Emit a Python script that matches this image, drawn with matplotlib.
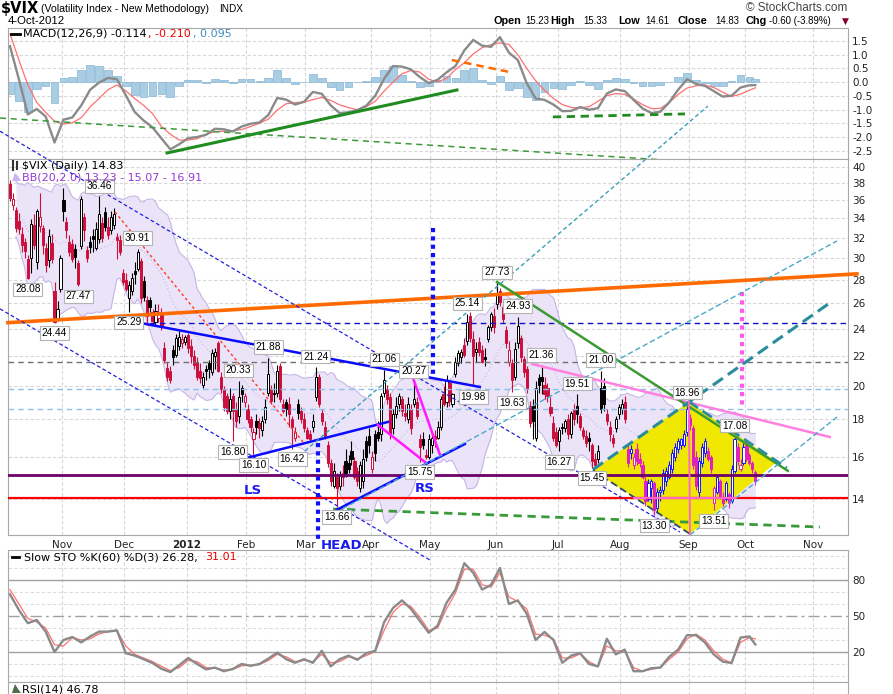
import matplotlib
matplotlib.use("Agg")
import matplotlib.pyplot as plt
import numpy as np
import pandas as pd
from matplotlib.lines import Line2D
from matplotlib.patches import Polygon
from matplotlib.ticker import FuncFormatter, NullLocator

W, H = 893, 694

# ---- $VIX daily candles, 6-Oct-2011 .. 4-Oct-2012 ----
opens = [37.9, 35.5, 34.9, 33.7, 32.4, 31.6, 29.9, 30.0, 33.3, 29.6,
         33.2, 33.0, 31.0, 29.8, 31.5, 27.0, 24.8, 27.2, 36.0, 33.6,
         31.6, 31.4, 30.9, 29.5, 31.2, 34.2, 30.8, 31.6, 32.2, 31.0,
         31.9, 33.5, 34.7, 33.1, 32.8, 33.3, 32.1, 31.8, 28.6, 28.0,
         26.4, 27.0, 28.8, 29.0, 29.7, 27.9, 26.3, 26.3, 25.3, 24.5,
         24.8, 25.2, 22.6, 21.2, 21.0, 22.4, 22.1, 22.7, 22.9, 23.0,
         23.5, 22.7, 22.0, 21.6, 21.0, 20.1, 21.1, 21.5, 20.9, 22.0,
         22.9, 20.6, 19.8, 19.4, 18.5, 19.4, 18.6, 18.2, 19.9, 19.0,
         18.6, 18.0, 16.9, 17.9, 17.8, 17.4, 18.0, 19.6, 19.8, 19.6,
         19.6, 21.3, 18.9, 19.0, 18.9, 18.0, 17.0, 18.9, 18.5, 18.0,
         17.4, 17.2, 17.6, 19.3, 20.6, 18.4, 17.6, 16.6, 15.7, 14.6,
         15.0, 14.6, 15.2, 15.8, 15.7, 16.3, 15.8, 15.3, 14.5, 14.8,
         16.8, 17.1, 15.4, 17.2, 17.3, 17.2, 19.6, 19.8, 19.3, 17.5,
         18.3, 18.9, 19.2, 18.4, 18.0, 18.6, 18.9, 19.0, 16.9, 16.9,
         16.1, 16.0, 16.6, 17.1, 17.0, 17.6, 19.5, 19.0, 20.2, 18.9,
         20.8, 21.5, 21.9, 22.8, 23.1, 25.0, 23.2, 22.3, 23.0, 22.4,
         21.9, 23.2, 24.1, 25.0, 25.9, 27.0, 25.7, 23.9, 21.6, 21.5,
         20.6, 22.9, 23.3, 21.8, 21.1, 18.8, 18.8, 17.0, 20.5, 20.6,
         20.1, 19.9, 18.7, 17.8, 17.3, 16.8, 17.6, 17.5, 18.0, 17.2,
         18.6, 18.8, 18.2, 17.4, 17.1, 17.0, 16.6, 15.9, 15.9, 19.9,
         20.0, 18.3, 17.6, 17.0, 17.5, 18.3, 18.6, 19.0, 16.4, 16.2,
         15.6, 16.4, 15.9, 15.6, 14.8, 14.0, 14.5, 14.7, 13.6, 14.3,
         14.4, 14.8, 15.0, 15.4, 16.0, 16.4, 16.6, 16.6, 17.3, 18.1,
         17.5, 16.0, 14.3, 15.7, 16.2, 16.3, 16.0, 13.8, 14.3, 14.8,
         14.1, 14.0, 14.2, 13.9, 15.3, 16.5, 15.4, 15.7, 16.6, 16.1,
         15.7, 15.23]
highs = [38.4, 36.8, 35.3, 34.6, 33.1, 32.0, 30.3, 33.9, 34.5, 35.0,
         36.9, 33.3, 31.5, 32.9, 32.4, 27.8, 26.2, 30.3, 37.4, 34.2,
         32.3, 31.9, 31.4, 29.8, 36.5, 34.6, 31.2, 32.2, 32.9, 33.6,
         36.46, 34.2, 35.2, 34.1, 34.8, 35.1, 32.5, 32.3, 29.0, 28.6,
         27.9, 28.6, 29.6, 30.91, 30.0, 28.3, 26.6, 26.5, 25.5, 25.9,
         25.9, 25.6, 23.0, 21.6, 21.3, 22.8, 23.6, 23.8, 23.6, 23.5,
         23.7, 23.2, 22.4, 21.9, 21.5, 20.9, 21.4, 21.7, 22.5, 22.6,
         23.1, 20.9, 20.0, 19.6, 19.9, 19.6, 19.0, 20.33, 20.1, 19.6,
         18.9, 18.2, 17.5, 18.3, 18.1, 18.2, 19.2, 21.88, 20.1, 20.2,
         21.4, 21.5, 19.2, 19.2, 19.3, 18.2, 17.6, 19.2, 18.7, 18.4,
         17.6, 17.4, 18.3, 21.24, 20.8, 18.6, 17.9, 16.8, 15.9, 15.7,
         15.2, 15.3, 15.6, 16.4, 16.1, 16.8, 16.0, 15.5, 15.8, 16.4,
         17.1, 17.5, 16.3, 17.4, 17.9, 19.6, 21.06, 20.1, 19.6, 18.6,
         19.3, 19.6, 19.4, 18.9, 19.3, 18.9, 20.27, 19.3, 17.2, 17.3,
         16.4, 17.2, 17.2, 17.4, 17.9, 19.4, 20.0, 20.7, 20.4, 19.6,
         21.9, 22.4, 22.5, 23.3, 25.14, 25.3, 23.8, 23.0, 23.4, 22.8,
         22.6, 24.3, 25.3, 25.6, 27.73, 27.3, 25.9, 24.2, 23.1, 21.8,
         23.0, 24.93, 23.5, 22.0, 21.3, 19.1, 19.2, 20.3, 20.8, 21.36,
         20.6, 20.2, 19.3, 18.2, 17.6, 17.6, 17.8, 18.0, 18.3, 18.5,
         18.9, 19.51, 18.4, 17.6, 17.4, 17.3, 16.7, 16.2, 16.6, 21.0,
         20.5, 18.6, 17.9, 17.2, 18.2, 18.9, 19.2, 19.4, 16.6, 16.6,
         16.2, 16.7, 16.2, 15.8, 15.0, 14.9, 14.9, 14.8, 14.5, 14.6,
         15.4, 15.5, 15.8, 16.4, 16.7, 17.0, 17.0, 17.4, 18.96, 18.3,
         17.7, 16.3, 16.0, 16.7, 17.0, 16.5, 16.1, 14.6, 15.1, 14.9,
         14.3, 14.8, 14.3, 15.6, 17.08, 16.7, 15.9, 16.7, 16.8, 16.2,
         15.8, 15.33]
lows = [35.9, 34.9, 32.6, 32.4, 30.6, 30.0, 28.08, 28.6, 30.9, 29.0,
        32.6, 30.4, 28.7, 29.2, 29.5, 24.44, 24.6, 26.9, 33.7, 32.0,
        30.2, 29.6, 29.1, 27.47, 30.9, 31.7, 29.6, 30.5, 30.6, 30.8,
        31.5, 31.6, 32.7, 31.9, 32.4, 32.9, 29.9, 30.3, 27.5, 27.0,
        25.29, 26.7, 27.6, 28.8, 26.0, 26.2, 24.3, 25.3, 24.3, 24.2,
        24.5, 23.9, 21.5, 20.3, 20.2, 21.4, 21.9, 22.4, 22.6, 22.8,
        22.2, 21.5, 21.1, 20.4, 20.2, 19.9, 20.4, 20.5, 20.7, 21.1,
        20.9, 19.6, 18.5, 18.3, 18.0, 16.8, 17.6, 17.8, 19.0, 18.7,
        17.8, 17.3, 16.1, 17.2, 17.0, 17.1, 17.8, 19.4, 18.9, 19.0,
        19.3, 19.0, 18.4, 18.2, 17.6, 16.42, 16.8, 18.0, 17.8, 17.3,
        16.9, 16.8, 17.3, 19.1, 18.7, 17.7, 16.9, 15.5, 14.6, 14.5,
        13.66, 14.4, 14.6, 15.0, 15.2, 15.6, 14.9, 14.6, 14.3, 14.5,
        15.8, 16.2, 15.2, 15.8, 16.8, 16.8, 19.3, 18.9, 16.9, 17.2,
        18.1, 18.5, 18.2, 17.9, 17.8, 17.2, 18.7, 18.0, 15.75, 16.4,
        15.9, 15.9, 16.2, 16.5, 16.9, 17.4, 18.8, 18.7, 18.8, 18.7,
        20.6, 21.3, 21.5, 21.9, 22.8, 23.0, 19.98, 21.6, 22.0, 21.5,
        21.3, 23.0, 23.8, 23.7, 25.5, 25.8, 24.4, 22.6, 21.3, 19.63,
        20.4, 22.6, 21.6, 20.6, 19.6, 17.6, 16.9, 16.8, 19.6, 19.5,
        19.2, 19.0, 18.2, 16.8, 16.5, 16.27, 17.2, 17.3, 16.9, 17.0,
        17.7, 17.8, 17.4, 16.9, 16.5, 16.3, 15.45, 15.5, 15.7, 18.4,
        18.5, 17.7, 16.8, 16.5, 17.3, 18.0, 18.3, 17.8, 15.5, 15.9,
        15.4, 15.6, 15.5, 14.9, 13.7, 13.9, 13.8, 13.30, 13.4, 13.9,
        14.2, 14.6, 14.9, 15.2, 15.8, 16.2, 16.4, 16.5, 17.1, 17.4,
        15.4, 14.4, 14.1, 15.5, 16.0, 15.8, 15.2, 13.51, 14.2, 14.0,
        13.7, 13.9, 13.6, 13.8, 15.2, 15.6, 15.3, 15.6, 15.8, 15.6,
        15.2, 14.61]
closes = [36.3, 36.2, 33.0, 32.9, 31.3, 30.7, 28.2, 33.4, 31.3, 34.8,
          34.1, 31.3, 29.3, 32.2, 29.9, 24.5, 25.5, 30.0, 34.8, 32.8,
          30.6, 29.9, 30.1, 27.6, 36.2, 32.8, 30.0, 31.1, 31.9, 32.9,
          34.5, 32.0, 33.1, 32.3, 34.1, 34.5, 31.8, 30.6, 27.8, 27.2,
          27.5, 28.2, 28.5, 30.6, 26.4, 26.5, 25.0, 25.7, 24.6, 25.4,
          25.3, 24.2, 21.7, 20.6, 20.4, 21.9, 23.3, 23.4, 23.2, 23.4,
          22.6, 22.0, 21.4, 20.6, 20.5, 20.6, 21.0, 21.1, 22.2, 22.3,
          21.0, 19.8, 18.7, 18.5, 19.2, 18.5, 17.9, 19.3, 19.5, 19.4,
          18.0, 17.6, 17.3, 17.6, 17.5, 17.9, 18.7, 20.8, 19.1, 19.5,
          21.0, 19.2, 18.5, 18.6, 18.3, 17.6, 17.3, 18.4, 18.0, 17.5,
          17.0, 16.9, 17.9, 20.6, 18.9, 17.9, 17.1, 15.7, 14.8, 15.3,
          14.5, 15.1, 15.0, 15.2, 15.4, 15.9, 15.0, 14.8, 15.6, 15.9,
          16.0, 16.6, 16.0, 16.2, 17.0, 19.4, 20.4, 19.2, 17.2, 18.3,
          18.8, 19.4, 18.5, 18.2, 18.9, 17.5, 19.2, 18.2, 16.5, 16.6,
          16.0, 16.9, 17.0, 16.9, 17.6, 19.2, 18.9, 20.4, 19.1, 19.5,
          21.6, 22.2, 22.3, 22.1, 24.5, 23.3, 22.0, 22.5, 22.3, 21.6,
          21.8, 24.1, 25.1, 24.1, 26.7, 26.1, 24.7, 22.9, 22.4, 20.4,
          22.5, 24.2, 21.9, 20.9, 19.9, 17.8, 17.9, 19.9, 20.1, 20.3,
          19.5, 19.4, 18.4, 17.0, 16.6, 17.4, 17.5, 17.9, 17.2, 18.4,
          18.0, 18.3, 17.6, 17.1, 16.7, 16.8, 15.8, 15.6, 16.3, 18.6,
          18.9, 17.9, 17.2, 16.7, 18.0, 18.7, 18.9, 18.0, 15.7, 16.4,
          16.0, 15.8, 15.7, 15.0, 13.9, 14.7, 14.8, 13.5, 14.3, 14.4,
          15.2, 15.3, 15.6, 16.2, 16.5, 16.8, 16.9, 17.2, 18.6, 17.7,
          15.6, 14.6, 15.8, 16.5, 16.8, 15.9, 15.4, 14.5, 15.0, 14.1,
          13.8, 14.7, 13.8, 15.4, 16.9, 15.8, 15.6, 16.5, 15.9, 15.7,
          15.4, 14.83]

HOLIDAYS = ["2011-11-24", "2011-12-26", "2012-01-02", "2012-01-16", "2012-02-20",
            "2012-04-06", "2012-05-28", "2012-07-04", "2012-09-03", "2012-11-22"]

# ---- indicators, read every third session (last point = 4-Oct-2012) ----
ind_day = list(range(0, 250, 3)) + [251]
macd_line = [1.3, 0.1, -1.18, -0.98, -1.25, -2.2, -1.37, -1.29, -0.85, -0.28,
             -0.02, 0.15, 0.1, -0.48, -1.09, -1.4, -1.65, -2.05, -2.45, -2.26,
             -2.04, -2.0, -1.92, -1.7, -1.72, -1.8, -1.62, -1.52, -1.47, -1.2,
             -0.58, -0.64, -0.82, -0.72, -0.36, -0.43, -0.85, -1.13, -1.1, -1.02,
             -0.86, -0.5, 0.12, 0.58, 0.56, 0.46, 0.18, -0.04, 0.08, 0.35,
             0.58, 1.15, 1.53, 1.32, 1.28, 1.63, 1.07, 0.8, -0.04, -0.6,
             -0.65, -0.82, -1.06, -1.05, -0.91, -1.01, -0.95, -0.42, -0.27, -0.33,
             -0.65, -0.96, -1.13, -1.08, -0.74, -0.28, 0.1, -0.07, -0.14, -0.33,
             -0.53, -0.5, -0.2, -0.12, -0.114]
macd_signal = [1.75, 0.8, -0.1, -0.74, -1.1, -1.43, -1.53, -1.48, -1.3, -0.9,
               -0.6, -0.28, -0.11, -0.32, -0.6, -0.85, -1.15, -1.62, -1.9, -2.11,
               -2.11, -2.06, -1.9, -1.81, -1.79, -1.77, -1.73, -1.62, -1.5, -1.35,
               -1.02, -0.79, -0.75, -0.73, -0.64, -0.56, -0.67, -0.83, -0.93, -1.01,
               -0.9, -0.7, -0.33, 0.0, 0.3, 0.42, 0.36, 0.1, 0.0, 0.13,
               0.45, 0.7, 1.02, 1.25, 1.36, 1.42, 1.37, 1.0, 0.5, 0.05,
               -0.3, -0.6, -0.82, -0.93, -0.94, -0.9, -0.7, -0.5, -0.42, -0.45,
               -0.62, -0.82, -0.97, -0.96, -0.75, -0.45, -0.22, -0.14, -0.11, -0.2,
               -0.37, -0.53, -0.44, -0.3, -0.21]
sto_k = [68, 55, 44, 46.7, 37, 20, 30, 32.5, 28, 33,
         37, 37, 38, 19, 17, 14, 10.8, 6, 3.3, 9,
         15, 10, 5.5, 7, 4, 5.8, 10, 8.5, 10, 14.5,
         19.5, 14, 11, 14, 11, 21, 8, 14, 17, 13.5,
         19, 21, 45, 56.7, 63, 56, 46, 36, 42, 61,
         72, 94, 86, 72, 76, 90, 60, 63, 52, 30,
         36.7, 30, 11, 17, 19, 10, 8, 31, 18, 22,
         4, 4, 6.5, 7, 16, 22, 34, 34, 28, 18,
         12, 10.8, 32, 33, 26.28]
sto_d = [72, 60, 48, 45, 40, 26, 25, 32, 30, 31,
         35, 37, 38, 25, 18, 15, 12, 8, 4.5, 7,
         13, 12, 7, 6.5, 5, 5.5, 8.5, 9, 9.5, 13,
         18, 16, 12, 13, 12, 18, 11, 12, 16, 14.5,
         17, 20.5, 38, 53, 60, 58, 49, 38, 40, 56,
         69, 89, 89, 76, 74, 86, 66, 62, 56, 35,
         34, 31, 15, 15, 18.5, 12, 8, 25, 21, 21,
         7, 4, 5.5, 7, 14, 20, 31, 35, 30, 21,
         14, 11, 28, 32, 31.01]

# ---- hand-placed high/low labels: session, value, +1 above / -1 below ----
pt_day = [6, 30, 23, 15, 43, 40, 75, 82, 77, 87, 95, 103, 110, 126, 136,
          138, 156, 154, 164, 171, 169, 179, 199, 191, 185, 196, 217, 228, 244, 237]
pt_val = [28.08, 36.46, 27.47, 24.44, 30.91, 25.29, 16.80, 16.10, 20.33, 21.88,
          16.42, 21.24, 13.66, 21.06, 20.27, 15.75, 19.98, 25.14, 27.73, 24.93,
          19.63, 21.36, 21.00, 19.51, 16.27, 15.45, 13.30, 18.96, 17.08, 13.51]
pt_side = [-1, 1, -1, -1, 1, -1, -1, -1, 1, 1, -1, 1, -1, 1, 1,
           -1, -1, 1, 1, 1, -1, 1, 1, 1, -1, -1, -1, 1, 1, -1]

# ---- drawn trendlines on the price panel: (session, price) pairs ----
price_lines = [
    # (start, end, colour, width, dash, unclipped)
    ((-0.7, 24.45), (285.2, 28.53), "#ff6a00", 2.6, "-", True),
    ((108.8, 13.56), (272.7, 12.81), "#3a9a3a", 2.0, (0, (3, 2)), False),
    ((-3.37, 44.8), (225.6, 12.61), "#2020e0", 0.9, (0, (3, 2)), True),
    ((-3.37, 25.54), (141.4, 11.54), "#2020e0", 0.9, (0, (3, 2)), True),
    ((35.35, 34.7), (98.65, 16.77), "#ff3b1f", 1.0, (0, (2, 2)), False),
    ((43.8, 24.43), (158.2, 19.95), "#0a0aff", 1.8, "-", False),
    ((79.8, 15.94), (127.3, 17.86), "#0a0aff", 1.8, "-", False),
    ((110.1, 13.53), (153.2, 16.66), "#0a0aff", 1.8, "-", False),
    ((123.9, 17.69), (139.7, 15.74), "#ff1aff", 1.8, "-", False),
    ((135.7, 20.53), (144.8, 16.09), "#ff1aff", 1.8, "-", False),
    ((175.8, 21.45), (276.1, 17.03), "#ff80e0", 1.8, "-", False),
    ((164.0, 27.81), (261.95, 15.30), "#3c9a32", 1.8, "-", False),
    ((142.4, 32.99), (142.4, 20.73), "#1010ff", 3.0, (0, (1, 1)), False),
    ((103.7, 16.71), (103.7, 12.30), "#1010ff", 3.0, (0, (1, 1)), True),
    ((246.5, 26.94), (246.5, 18.65), "#ff5af0", 3.0, (0, (1, 1)), False),
    ((99.3, 16.29), (235.0, 48.5), "#3aa0b8", 1.0, (0, (3, 2)), True),
    ((109.4, 13.39), (278.5, 31.66), "#4aa8c8", 1.0, (0, (4, 2)), False),
    ((196.3, 15.36), (276.1, 26.03), "#2a8c9c", 2.2, (0, (4, 2)), False),
    ((229.0, 12.49), (278.5, 18.14), "#4aa8c8", 1.0, (0, (4, 2)), False),
    ((228.6, 19.04), (261.6, 15.44), "#2a8c9c", 2.0, (0, (4, 2)), False),
    ((196.3, 15.33), (229.0, 12.53), "#2a4a6a", 1.3, (0, (4, 2)), False),
    ((229.0, 12.53), (228.6, 19.04), "#ff66cc", 1.4, "-", False),
    ((210.1, 14.04), (244.1, 14.04), "#ff66cc", 1.6, "-", False),
]
diamond = [(196.3, 15.33), (228.6, 19.04), (258.2, 15.74), (229.0, 12.53)]

macd_lines = [
    ((52.9, -2.58), (150.5, -0.29), "#1e8c1e", 2.2, "-", False),
    ((-3.37, -1.31), (241.8, -2.98), "#3a9a3a", 1.1, (0, (4, 3)), True),
    ((148.8, 0.80), (168.4, 0.36), "#ff6a00", 1.8, (0, (3, 2)), False),
    ((182.8, -1.27), (227.3, -1.16), "#1e8c1e", 2.0, (0, (3, 2)), False),
]

# ---- session calendar and month grid ----
days = pd.bdate_range("2011-10-06", "2012-12-31")
days = days[~days.isin(pd.to_datetime(HOLIDAYS))]
first_of_month = pd.Series(np.arange(len(days)), index=days).groupby(days.to_period("M")).first()
months = pd.period_range("2011-11", "2012-11", freq="M")
month_pos = [first_of_month[m] - 0.5 for m in months]
month_lab = ["2012" if m.month == 1 else m.strftime("%b") for m in months]
XLIM = (-0.67, 282.2)

fig = plt.figure(figsize=(W / 100, H / 100), dpi=100)


def panel(top, bottom):
    a = fig.add_axes([8 / W, 1 - bottom / H, 840 / W, (bottom - top) / H])
    a.set_xlim(*XLIM)
    for s in a.spines.values():
        s.set_color("#a8a8a8")
    a.set_xticks(month_pos)
    a.grid(axis="x", color="#d6d6d6", ls=(0, (3, 2)), lw=0.8)
    a.set_axisbelow(True)
    a.tick_params(length=0, labelsize=7.5, colors="#222222", pad=3)
    a.yaxis.tick_right()
    a.set_xticklabels([])
    return a


def ftext(x, y, s, **kw):
    kw.setdefault("va", "center")
    kw.setdefault("fontsize", 8)
    fig.text(x / W, 1 - y / H, s, **kw)


def draw_lines(a, lines):
    for (x0, y0), (x1, y1), col, lw, ls, free in lines:
        a.plot([x0, x1], [y0, y1], color=col, lw=lw, ls=ls, clip_on=not free, zorder=7)


# ---- MACD panel ----
am = panel(28, 159)
am.set_ylim(-2.8, 1.964)
am.set_yticks(np.round(np.arange(-2.5, 1.6, 0.5), 1))
am.yaxis.set_major_formatter(FuncFormatter(lambda v, _: f"{v:.1f}".replace("-0.0", "0.0")))
am.grid(axis="y", color="#d6d6d6", ls=(0, (3, 2)), lw=0.8)
hist = np.array(macd_line) - np.array(macd_signal)
am.bar(ind_day, hist, width=2.6, color="#a9cde3", edgecolor="#86b6d4", lw=0.5, zorder=2)
am.plot(ind_day, macd_signal, color="#ff7070", lw=0.9, zorder=3)
am.plot(ind_day, macd_line, color="#8a8a8a", lw=1.7, zorder=4)
draw_lines(am, macd_lines)

# ---- Slow STO panel ----
ast = panel(550, 682)
ast.set_ylim(-5, 105)
ast.set_yticks([20, 50, 80])
for v in (0, 10, 30, 40, 60, 70, 90, 100):
    ast.axhline(v, color="#dcdcdc", ls=(0, (3, 2)), lw=0.8, zorder=1)
for v in (20, 80):
    ast.axhline(v, color="#a0a0a0", lw=1, zorder=1)
ast.axhline(50, color="#a0a0a0", lw=1, ls=(0, (8, 3, 2, 3)), zorder=1)
ast.plot(ind_day, sto_d, color="#ff7070", lw=0.9, zorder=3)
ast.plot(ind_day, sto_k, color="#8a8a8a", lw=1.7, zorder=4)

# ---- RSI strip (mostly cut off) ----
ar = panel(682, 700)
ar.set_yticks([])
ar.set_ylim(0, 100)

# ---- price panel ----
ax = panel(159, 535)
ax.set_yscale("log")
ax.set_ylim(12.49, 41.03)
ax.set_yticks(range(14, 41, 2))
ax.yaxis.set_minor_locator(NullLocator())
ax.yaxis.set_major_formatter(FuncFormatter(lambda v, _: f"{v:g}"))
ax.grid(axis="y", color="#d6d6d6", ls=(0, (3, 2)), lw=0.8)
ax.set_xticklabels(month_lab)
ax.tick_params(axis="x", pad=3.5, labelsize=7.5)
for t in ax.get_xticklabels():
    if t.get_text() == "2012":
        t.set_fontweight("bold")

o, h, l, c = (np.array(v, float) for v in (opens, highs, lows, closes))
idx = np.arange(len(c))

cs = pd.Series(c)
mid = cs.rolling(20, min_periods=3).mean()
sd = cs.rolling(20, min_periods=3).std(ddof=0)
ax.fill_between(idx, mid - 2 * sd, mid + 2 * sd, color="#ebe3f7", lw=0, zorder=1)
ax.plot(idx, mid + 2 * sd, color="#c6b6e8", lw=0.8, zorder=1.5)
ax.plot(idx, mid - 2 * sd, color="#c6b6e8", lw=0.8, zorder=1.5)
ax.plot(idx, mid, color="#c6b6e8", lw=0.8, ls=(0, (1, 2)), zorder=1.5)

ax.add_patch(Polygon(diamond, closed=True, fc="#f0e800", ec="none", zorder=2))

for lvl, col, lw, ls in [(21.59, "#707070", 1.0, (0, (4, 3))), (19.83, "#8fc0ea", 1.0, (0, (4, 3))),
                         (18.61, "#8fc0ea", 1.0, (0, (4, 3))), (15.10, "#6b006b", 2.0, "-"),
                         (14.04, "#ff0000", 1.6, "-")]:
    ax.axhline(lvl, color=col, lw=lw, ls=ls, zorder=6)
ax.hlines(24.43, 43.8, XLIM[1], color="#1010c8", lw=1, ls=(0, (4, 3)), zorder=6)

prev = np.r_[o[0], c[:-1]]
up_day = c >= prev
in_box = idx >= 208
col = np.where(in_box, np.where(up_day, "#1414ff", "#e020c0"),
               np.where(up_day, "#000000", "#cc0f3c"))
face = np.where(c > o, "white", col)
ax.vlines(idx, l, h, colors=col, lw=0.8, zorder=4)
ax.bar(idx, np.maximum(np.abs(c - o), 0.04), bottom=np.minimum(o, c), width=0.72,
       color=face, edgecolor=col, lw=0.7, zorder=5)

draw_lines(ax, price_lines)

for i, v, s in zip(pt_day, pt_val, pt_side):
    ax.annotate(f"{v:.2f}", (i, v), xytext=(0, 10.5 * s), textcoords="offset pixels",
                ha="center", va="center", fontsize=7.3, family="Liberation Sans",
                bbox=dict(boxstyle="square,pad=0.18", fc="white", ec="#b4b4b4", lw=0.8),
                zorder=9)

ax.text(81.8, 14.40, "LS", color="#1a1aee", weight="bold", fontsize=9.5, ha="center", va="center", zorder=9)
ax.text(139.7, 14.45, "RS", color="#1a1aee", weight="bold", fontsize=9.5, ha="center", va="center", zorder=9)
ax.text(111.8, -0.027, "HEAD", color="#1a1aee", weight="bold", fontsize=9.5, ha="center", va="center",
        transform=ax.get_xaxis_transform(), zorder=9)

# ---- header and panel legends ----
ftext(1, 9, "$VIX", weight="bold", fontsize=10.5)
ftext(41, 9, "(Volatility Index - New Methodology)", family="Liberation Sans", fontsize=7.6)
ftext(219, 9, "INDX", family="Liberation Sans", fontsize=7.2)
ftext(8, 21, "4-Oct-2012", family="Liberation Sans", fontsize=8.2)
ftext(847, 8, "\u00a9 StockCharts.com", ha="right", family="Liberation Sans", fontsize=8.5, color="#444444")
for x, s, bold in [(493, "Open", True), (525, "15.23", False), (550, "High", True), (583, "15.33", False),
                   (618, "Low", True), (645, "14.61", False), (678, "Close", True), (715, "14.83", False),
                   (746, "Chg", True), (769, "-0.60 (-3.89%)", False)]:
    ftext(x, 21, s, family="Liberation Sans", fontsize=7.8 if bold else 6.9,
          weight="bold" if bold else "normal")
ftext(845, 21, "\u25bc", ha="center", fontsize=6.5, color="#8b0030")

fig.add_artist(Line2D([11 / W, 20 / W], [1 - 34 / H] * 2, color="black", lw=2))
ftext(23, 34, "MACD(12,26,9) -0.114")
ftext(148, 34, ", -0.210", color="#ee0000")
ftext(193, 34, ", 0.095", color="#3a8fbf")

fig.add_artist(Line2D([13 / W, 13 / W], [1 - 161 / H, 1 - 170 / H], color="#333333", lw=1.5))
fig.add_artist(Line2D([17 / W, 17 / W], [1 - 162 / H, 1 - 169 / H], color="#333333", lw=1.5))
ftext(22, 166, "$VIX (Daily) 14.83")
fig.add_artist(Polygon([(12 / W, 1 - 181 / H), (15 / W, 1 - 173 / H), (18 / W, 1 - 176 / H),
                        (21 / W, 1 - 181 / H)], closed=True, fc="#c9b6ee", ec="none"))
ftext(22, 177, "BB(20,2.0) 13.23 - 15.07 - 16.91", color="#9637d6")

fig.add_artist(Line2D([12 / W, 19 / W], [1 - 557 / H] * 2, color="black", lw=2))
ftext(24, 557, "Slow STO %K(60) %D(3) 26.28,")
ftext(205, 557, "31.01", color="#ee0000")

fig.add_artist(Polygon([(12 / W, 1 - 693 / H), (15 / W, 1 - 684 / H), (18 / W, 1 - 689 / H),
                        (21 / W, 1 - 693 / H)], closed=True, fc="#4c6c4c", ec="none"))
ftext(22, 689, "RSI(14) 46.78")

fig.savefig("out.png", dpi=100)
